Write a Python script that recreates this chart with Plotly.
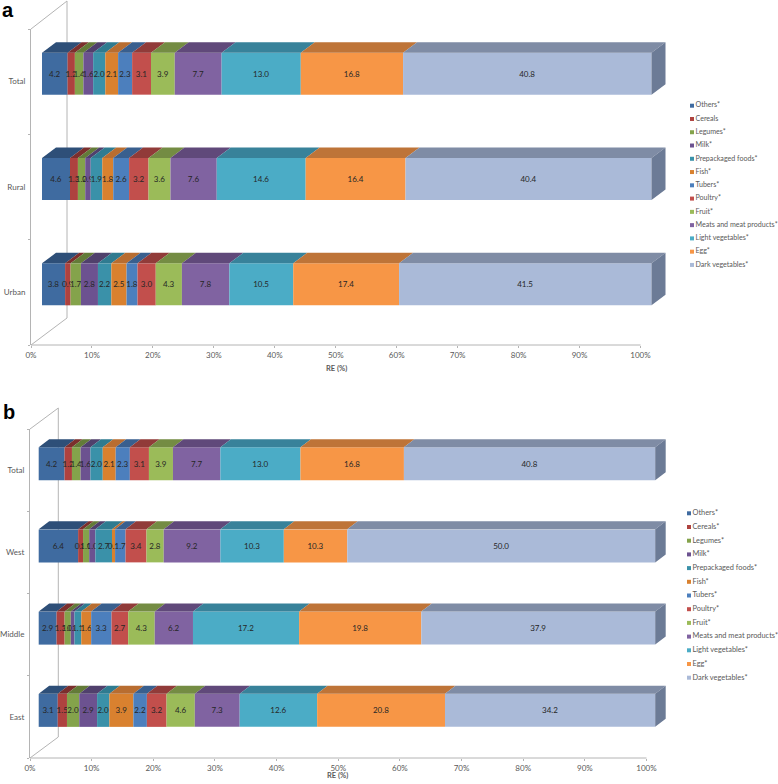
import plotly.graph_objects as go

W, H = 778, 784

series_a = ['Others*', 'Cereals', 'Legumes*', 'Milk*', 'Prepackaged foods*', 'Fish*', 'Tubers*', 'Poultry*',
            'Fruit*', 'Meats and meat products*', 'Light vegetables*', 'Egg*', 'Dark vegetables*']
series_b = ['Others*', 'Cereals*', 'Legumes*', 'Milk*', 'Prepackaged foods*', 'Fish*', 'Tubers*', 'Poultry*',
            'Fruit*', 'Meats and meat products*', 'Light vegetables*', 'Egg*', 'Dark vegetables*']

# panel a, bottom to top
urban_a = [3.8, 0.9, 1.7, 2.8, 2.2, 2.5, 1.8, 3.0, 4.3, 7.8, 10.5, 17.4, 41.5]
rural_a = [4.6, 1.3, 1.2, 0.9, 1.9, 1.8, 2.6, 3.2, 3.6, 7.6, 14.6, 16.4, 40.4]
total_a = [4.2, 1.2, 1.4, 1.6, 2.0, 2.1, 2.3, 3.1, 3.9, 7.7, 13.0, 16.8, 40.8]

# panel b, bottom to top
east_b = [3.1, 1.5, 2.0, 2.9, 2.0, 3.9, 2.2, 3.2, 4.6, 7.3, 12.6, 20.8, 34.2]
middle_b = [2.9, 1.3, 1.0, 0.6, 1.1, 1.6, 3.3, 2.7, 4.3, 6.2, 17.2, 19.8, 37.9]
west_b = [6.4, 0.8, 1.0, 1.0, 2.7, 0.5, 1.7, 3.4, 2.8, 9.2, 10.3, 10.3, 50.0]
total_b = [4.2, 1.2, 1.4, 1.6, 2.0, 2.1, 2.3, 3.1, 3.9, 7.7, 13.0, 16.8, 40.8]

cats_a = ['Urban', 'Rural', 'Total']
cats_b = ['East', 'Middle', 'West', 'Total']
x_ticks = list(range(0, 101, 10))

front = ['#3F6BA0', '#AE423F', '#84A34B', '#6C5290', '#3A91A9', '#D9812F', '#4C7FBD', '#C24F4C',
         '#9BBB59', '#8063A1', '#4BACC6', '#F79646', '#AABAD8']
top = ['#2E4F78', '#7B2F2D', '#637B38', '#50406C', '#2F7B90', '#B86D30', '#395F8E', '#913B39',
       '#748C43', '#60497A', '#38829A', '#BE7438', '#7F8CA5']
side = '#6C7B96'
ink = '#595959'
wall = '#B4B4B4'
font_name = 'Lato'
x_max = 105  # room right of 100% for the depth of the blocks


def px(x):
    return x / W


def py(y):
    return 1 - y / H


fig = go.Figure()


def draw_panel(rows, cats, names, xa, ya, x0, x100, y_top, y_bot, bar_h, shift, depth):
    px_per_x = (x100 - x0) / 100
    px_per_y = (y_bot - y_top) / len(cats)
    shift_x, shift_y = shift[0] / px_per_x, shift[1] / px_per_y
    dx, dy = depth[0] / px_per_x, depth[1] / px_per_y
    half = bar_h / px_per_y / 2
    ys = [i + 0.5 + shift_y for i in range(len(cats))]

    starts = []
    widths = []
    for row in rows:
        s = sum(row)
        w = [v / s * 100 for v in row]
        c = 0
        st = []
        for v in w:
            st.append(c + shift_x)
            c += v
        starts.append(st)
        widths.append(w)

    for k, name in enumerate(names):
        fig.add_trace(go.Bar(
            orientation='h', y=ys, x=[w[k] for w in widths], base=[s[k] for s in starts],
            width=bar_h / px_per_y, xaxis=xa, yaxis=ya, name=name, showlegend=False,
            marker=dict(color=front[k], line=dict(width=0)),
            text=[f'{row[k]:.1f}' for row in rows], textposition='inside', insidetextanchor='middle',
            constraintext='none', textangle=0, textfont=dict(size=8, color='#262626', family=font_name),
            hoverinfo='skip',
        ))
        # top face of the block
        tx, ty = [], []
        for i, y in enumerate(ys):
            a = starts[i][k]
            b = a + widths[i][k]
            tx += [a, b, b + dx, a + dx, a, None]
            ty += [y + half, y + half, y + half + dy, y + half + dy, y + half, None]
        fig.add_trace(go.Scatter(x=tx, y=ty, xaxis=xa, yaxis=ya, mode='lines', fill='toself', fillcolor=top[k],
                                 line=dict(width=0), showlegend=False, hoverinfo='skip'))
    # right end of the last block
    tx, ty = [], []
    for i, y in enumerate(ys):
        e = starts[i][-1] + widths[i][-1]
        tx += [e, e + dx, e + dx, e, e, None]
        ty += [y + half, y + half + dy, y - half + dy, y - half, y + half, None]
    fig.add_trace(go.Scatter(x=tx, y=ty, xaxis=xa, yaxis=ya, mode='lines', fill='toself', fillcolor=side,
                             line=dict(width=0), showlegend=False, hoverinfo='skip'))


def axis_style(x0, x100, y_top, y_bot, cats, anchor_x, anchor_y):
    x_end = x0 + (x100 - x0) * x_max / 100
    xaxis = dict(domain=[px(x0), px(x_end)], range=[0, x_max], anchor=anchor_y, automargin=False,
                 tickvals=x_ticks, ticktext=[f'{t}%' for t in x_ticks],
                 ticks='outside', ticklen=2, tickcolor=wall, showline=False, showgrid=False,
                 zeroline=False, tickfont=dict(size=8, color=ink, family=font_name))
    yaxis = dict(domain=[py(y_bot), py(y_top)], range=[0, len(cats)], anchor=anchor_x, automargin=False,
                 tickvals=[i + 0.5 for i in range(len(cats))], ticklabelstandoff=3,
                 ticktext=cats, ticks='', showline=True, linecolor=wall, linewidth=1, showgrid=False, zeroline=False,
                 tickfont=dict(size=8, color=ink, family=font_name),
                 minor=dict(tickvals=list(range(len(cats) + 1)), ticks='outside', ticklen=2, tickcolor=wall))
    return xaxis, yaxis


def draw_legend(names, x, y0, step, size):
    for k, name in enumerate(names):
        fig.add_trace(go.Scatter(x=[x], y=[y0 + k * step], xaxis='x3', yaxis='y3', mode='markers+text', text=[name],
                                 textposition='middle right', marker=dict(symbol='square', size=4, color=front[k]),
                                 textfont=dict(size=size, color=ink, family=font_name), showlegend=False,
                                 hoverinfo='skip', cliponaxis=False))


draw_panel([urban_a, rural_a, total_a], cats_a, series_a, 'x', 'y', 31, 640.5, 29, 345, 42, (11, 8), (14, 10.5))
draw_panel([east_b, middle_b, west_b, total_b], cats_b, series_b, 'x2', 'y2', 30, 646.5, 429, 758, 33, (8.7, 6.5), (10.5, 8))
draw_legend(series_a, 692, 105.7, 13.27, 7.1)
draw_legend(series_b, 689, 513.3, 13.7, 7.4)

xa1, ya1 = axis_style(31, 640.5, 29, 345, cats_a, 'x', 'y')
xa2, ya2 = axis_style(30, 646.5, 429, 758, cats_b, 'x2', 'y2')


def wall_lines(x0, x100, xb, y_top, y_top_b, y_bot, y_bot_b):
    points = [(x0, y_top, xb, y_top_b), (xb, y_top_b, xb, y_bot_b), (x0, y_bot, xb, y_bot_b), (x0, y_bot, x100, y_bot)]
    return [dict(type='line', xref='paper', yref='paper', x0=px(a), y0=py(b), x1=px(c), y1=py(d),
                 line=dict(color=wall, width=1), layer='below') for a, b, c, d in points]


def note(text, x, y, size, color, family=font_name, height=None):
    return dict(text=text, xref='paper', yref='paper', x=px(x), y=py(y), xanchor='center', yanchor='middle',
                showarrow=False, font=dict(size=size, color=color, family=family), height=height)


fig.update_layout(
    width=W, height=H, margin=dict(l=0, r=0, t=0, b=0), paper_bgcolor='white', plot_bgcolor='rgba(0,0,0,0)',
    barmode='overlay', showlegend=False,
    xaxis=xa1, yaxis=ya1, xaxis2=xa2, yaxis2=ya2,
    xaxis3=dict(domain=[0, 1], range=[0, W], visible=False, anchor='y3', automargin=False),
    yaxis3=dict(domain=[0, 1], range=[H, 0], visible=False, anchor='x3', automargin=False),
    shapes=wall_lines(31, 640.5, 67, 29, 1, 345, 318) + wall_lines(30, 646.5, 58.3, 429, 408, 758, 737),
    annotations=[
        note('<b>a</b>', 8, 9.5, 20, 'black', 'Liberation Sans', 19),
        note('<b>b</b>', 8.5, 412, 20, 'black', 'Liberation Sans', 22),
        note('<b>RE (%)</b>', 336, 368, 7.5, ink),
        note('<b>RE (%)</b>', 337, 775, 7.5, ink),
    ],
)

fig.write_html("out.html", config=dict(displayModeBar=False), post_script="document.body.style.margin='0';")
